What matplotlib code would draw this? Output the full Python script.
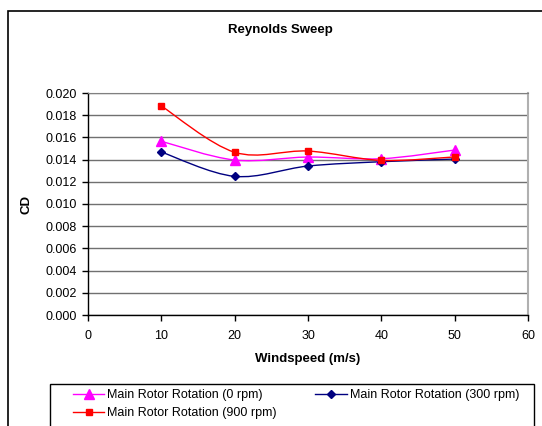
import matplotlib.pyplot as plt
import numpy as np
from matplotlib.path import Path
from matplotlib.patches import PathPatch, Rectangle
from matplotlib.lines import Line2D

plt.rcParams['font.family'] = ['Liberation Sans', 'DejaVu Sans']

windspeed = [10, 20, 30, 40, 50]
cd_0rpm = [0.01565, 0.01396, 0.01423, 0.01408, 0.01486]
cd_300rpm = [0.01468, 0.01249, 0.01342, 0.01381, 0.01405]
cd_900rpm = [0.01883, 0.01466, 0.01477, 0.01393, 0.01424]

series = [
    ('Main Rotor Rotation (0 rpm)', cd_0rpm, '#FF00FF', '^', 6.5),
    ('Main Rotor Rotation (300 rpm)', cd_300rpm, '#000080', 'D', 4.5),
    ('Main Rotor Rotation (900 rpm)', cd_900rpm, '#FF0000', 's', 5),
]


def smooth_path(x, y):
    # cardinal spline through the points, as cubic bezier segments
    p = np.column_stack([x, y]).astype(float)
    ext = np.vstack([p[0], p, p[-1]])
    verts = [p[0]]
    codes = [Path.MOVETO]
    for i in range(len(p) - 1):
        c1 = ext[i + 1] + (ext[i + 2] - ext[i]) / 6
        c2 = ext[i + 2] - (ext[i + 3] - ext[i + 1]) / 6
        verts += [c1, c2, ext[i + 2]]
        codes += [Path.CURVE4] * 3
    return Path(verts, codes)


fig = plt.figure(figsize=(5.42, 4.26), dpi=100)
W, H = 542, 426
ax = fig.add_axes([88 / W, 1 - 315 / H, (528 - 88) / W, (315 - 93) / H])

handles = {}
for label, vals, color, marker, ms in series:
    ax.add_patch(PathPatch(smooth_path(windspeed, vals), fill=False,
                           edgecolor=color, lw=1.0, zorder=3))
    ax.plot(windspeed, vals, linestyle='none', marker=marker, ms=ms,
            color=color, zorder=4)
    handles[label] = Line2D([], [], color=color, marker=marker, ms=ms, lw=1.0)

ax.set_xlim(0, 60)
ax.set_ylim(0, 0.020)
ax.set_xticks(range(0, 61, 10))
ax.set_yticks(np.arange(0, 0.0201, 0.002))
ax.yaxis.set_major_formatter(plt.FuncFormatter(lambda v, _: f'{v:.3f}'))
ax.grid(axis='y', color='#707070', lw=1.0)
ax.set_axisbelow(True)
ax.tick_params(direction='out', length=4, width=1, labelsize=9)
ax.tick_params(axis='x', pad=7)
ax.tick_params(axis='y', pad=4)
for side in ['left', 'bottom']:
    ax.spines[side].set_color('black')
    ax.spines[side].set_linewidth(1.0)
ax.spines['top'].set_color('#808080')
ax.spines['right'].set_color('#b0b0b0')
ax.spines['right'].set_linewidth(1.5)

ax.set_xlabel('Windspeed (m/s)', fontsize=9.5, fontweight='bold', labelpad=8)
ax.set_ylabel('CD', fontsize=9.5, fontweight='bold', labelpad=8)
ax.yaxis.set_label_coords((32 - 88) / (528 - 88), 0.5)
fig.text(280 / W, 1 - 30 / H, 'Reynolds Sweep', ha='center', va='center',
         fontsize=9.5, fontweight='bold')

# outer chart frame
fig.patches.append(Rectangle((8 / W, -0.1), 1.0, 1.1 - 11 / H,
                             transform=fig.transFigure, fill=False,
                             edgecolor='black', lw=1.2))
# legend frame, runs off the bottom edge
fig.patches.append(Rectangle((50 / W, -0.1), (534 - 50) / W, 0.1 + 1 - 384 / H,
                             transform=fig.transFigure, fill=False,
                             edgecolor='black', lw=1.0))

order = ['Main Rotor Rotation (0 rpm)', 'Main Rotor Rotation (900 rpm)',
         'Main Rotor Rotation (300 rpm)']
fig.legend([handles[k] for k in order], order, ncol=2, mode='expand',
           loc='upper left',
           bbox_to_anchor=(73 / W, 1 - 389 / H, (519 - 73) / W, 0),
           fontsize=9, frameon=False,
           handlelength=2.5, handletextpad=0.25, labelspacing=0.5,
           borderpad=0, borderaxespad=0, numpoints=1)

fig.savefig('out.png', dpi=100)
